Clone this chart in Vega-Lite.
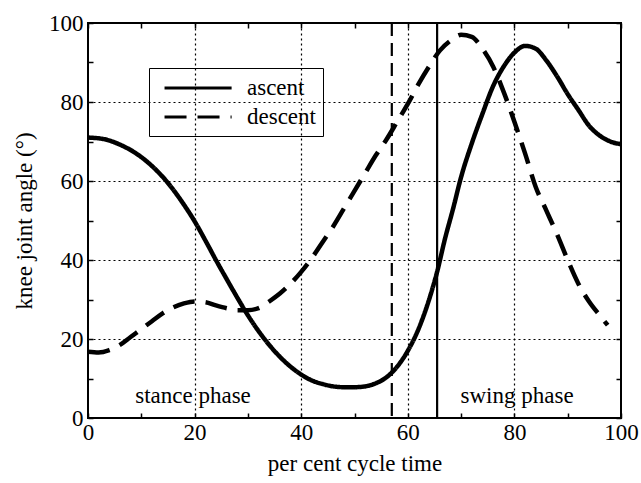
{
  "$schema": "https://vega.github.io/schema/vega-lite/v6.json",
  "width": 533,
  "height": 395,
  "autosize": {"type": "none"},
  "padding": {"left": 88, "top": 23, "right": 20, "bottom": 65},
  "background": "white",
  "config": {
    "view": {"stroke": "black", "strokeWidth": 2},
    "font": "Liberation Serif",
    "axis": {
      "labelFont": "Liberation Serif",
      "titleFont": "Liberation Serif",
      "labelFontSize": 23,
      "titleFontSize": 23,
      "titleFontWeight": "normal",
      "labelColor": "black",
      "titleColor": "black",
      "tickColor": "black",
      "domain": false,
      "labelFlush": false,
      "labelOverlap": false
    }
  },
  "datasets": {
    "curves": [
      {"series": "ascent", "time": 0, "angle": 71},
      {"series": "ascent", "time": 3, "angle": 70.6},
      {"series": "ascent", "time": 6, "angle": 69.2},
      {"series": "ascent", "time": 9, "angle": 67},
      {"series": "ascent", "time": 12, "angle": 63.8},
      {"series": "ascent", "time": 15, "angle": 59.5},
      {"series": "ascent", "time": 18, "angle": 54},
      {"series": "ascent", "time": 20, "angle": 49.8},
      {"series": "ascent", "time": 22, "angle": 45},
      {"series": "ascent", "time": 24, "angle": 40},
      {"series": "ascent", "time": 26, "angle": 35.2},
      {"series": "ascent", "time": 28, "angle": 30.5},
      {"series": "ascent", "time": 30, "angle": 26},
      {"series": "ascent", "time": 32, "angle": 22},
      {"series": "ascent", "time": 34, "angle": 18.5},
      {"series": "ascent", "time": 36, "angle": 15.5},
      {"series": "ascent", "time": 38, "angle": 13},
      {"series": "ascent", "time": 40, "angle": 11},
      {"series": "ascent", "time": 42, "angle": 9.5},
      {"series": "ascent", "time": 44, "angle": 8.6},
      {"series": "ascent", "time": 46, "angle": 8},
      {"series": "ascent", "time": 48, "angle": 7.8},
      {"series": "ascent", "time": 50, "angle": 7.8},
      {"series": "ascent", "time": 52, "angle": 8},
      {"series": "ascent", "time": 54, "angle": 8.8},
      {"series": "ascent", "time": 56, "angle": 10.3},
      {"series": "ascent", "time": 58, "angle": 13},
      {"series": "ascent", "time": 60, "angle": 17},
      {"series": "ascent", "time": 62, "angle": 22.5},
      {"series": "ascent", "time": 64, "angle": 30},
      {"series": "ascent", "time": 65.5, "angle": 37},
      {"series": "ascent", "time": 67, "angle": 45.5},
      {"series": "ascent", "time": 68.5, "angle": 53},
      {"series": "ascent", "time": 70, "angle": 61},
      {"series": "ascent", "time": 72, "angle": 69.5},
      {"series": "ascent", "time": 74, "angle": 77},
      {"series": "ascent", "time": 76, "angle": 84},
      {"series": "ascent", "time": 78, "angle": 89},
      {"series": "ascent", "time": 80, "angle": 92.5},
      {"series": "ascent", "time": 82, "angle": 94.2},
      {"series": "ascent", "time": 84, "angle": 93.5},
      {"series": "ascent", "time": 86, "angle": 90.5},
      {"series": "ascent", "time": 88, "angle": 86.5},
      {"series": "ascent", "time": 90, "angle": 82},
      {"series": "ascent", "time": 92, "angle": 78},
      {"series": "ascent", "time": 94, "angle": 74},
      {"series": "ascent", "time": 96, "angle": 71.5},
      {"series": "ascent", "time": 98, "angle": 70},
      {"series": "ascent", "time": 100, "angle": 69.3},
      {"series": "descent", "time": 0, "angle": 16.8},
      {"series": "descent", "time": 2, "angle": 16.6},
      {"series": "descent", "time": 4, "angle": 17.2},
      {"series": "descent", "time": 6, "angle": 18.5},
      {"series": "descent", "time": 8, "angle": 20.5},
      {"series": "descent", "time": 10, "angle": 22.5},
      {"series": "descent", "time": 12, "angle": 24.5},
      {"series": "descent", "time": 14, "angle": 26.5},
      {"series": "descent", "time": 16, "angle": 28},
      {"series": "descent", "time": 18, "angle": 29},
      {"series": "descent", "time": 20, "angle": 29.5},
      {"series": "descent", "time": 22, "angle": 29.3},
      {"series": "descent", "time": 24, "angle": 28.5},
      {"series": "descent", "time": 26, "angle": 27.8},
      {"series": "descent", "time": 28, "angle": 27.3},
      {"series": "descent", "time": 30, "angle": 27.3},
      {"series": "descent", "time": 32, "angle": 27.8},
      {"series": "descent", "time": 34, "angle": 29.5},
      {"series": "descent", "time": 36, "angle": 31.5},
      {"series": "descent", "time": 38, "angle": 34},
      {"series": "descent", "time": 40, "angle": 37},
      {"series": "descent", "time": 42, "angle": 40.5},
      {"series": "descent", "time": 44, "angle": 44.5},
      {"series": "descent", "time": 46, "angle": 48.5},
      {"series": "descent", "time": 48, "angle": 53},
      {"series": "descent", "time": 50, "angle": 57.5},
      {"series": "descent", "time": 52, "angle": 62},
      {"series": "descent", "time": 54, "angle": 66.5},
      {"series": "descent", "time": 56, "angle": 70.5},
      {"series": "descent", "time": 58, "angle": 75},
      {"series": "descent", "time": 60, "angle": 79.5},
      {"series": "descent", "time": 62, "angle": 84.5},
      {"series": "descent", "time": 64, "angle": 89},
      {"series": "descent", "time": 66, "angle": 93},
      {"series": "descent", "time": 68, "angle": 95.5},
      {"series": "descent", "time": 70, "angle": 97},
      {"series": "descent", "time": 72, "angle": 96.5},
      {"series": "descent", "time": 74, "angle": 93.5},
      {"series": "descent", "time": 76, "angle": 89},
      {"series": "descent", "time": 78, "angle": 82.5},
      {"series": "descent", "time": 80, "angle": 75},
      {"series": "descent", "time": 82, "angle": 67},
      {"series": "descent", "time": 84, "angle": 58.5},
      {"series": "descent", "time": 86, "angle": 52.5},
      {"series": "descent", "time": 88, "angle": 46.5},
      {"series": "descent", "time": 90, "angle": 40},
      {"series": "descent", "time": 92, "angle": 34},
      {"series": "descent", "time": 94, "angle": 29.5},
      {"series": "descent", "time": 96, "angle": 26},
      {"series": "descent", "time": 97.5, "angle": 23.5}
    ],
    "toeoff": [
      {"series": "ascent", "time": 65.5},
      {"series": "descent", "time": 57}
    ],
    "phases": [
      {"label": "stance phase", "time": 19.7, "angle": 3.8},
      {"label": "swing phase", "time": 80.5, "angle": 3.8}
    ]
  },
  "resolve": {"axis": {"x": "independent", "y": "independent"}},
  "layer": [
    {
      "data": {"name": "curves"},
      "mark": {"type": "line", "color": "black", "strokeWidth": 4.5, "interpolate": "monotone"},
      "encoding": {
        "x": {
          "field": "time", "type": "quantitative",
          "scale": {"domain": [0, 100], "nice": false},
          "axis": {
            "title": "per cent cycle time",
            "orient": "bottom",
            "values": [0, 10, 20, 30, 40, 50, 60, 70, 80, 90, 100],
            "labelExpr": "datum.value % 20 === 0 ? datum.label : ''",
            "grid": true,
            "gridColor": "black",
            "gridDash": [2, 3],
            "gridWidth": 1.2,
            "gridOpacity": {"condition": {"test": "datum.value % 20 === 0 && datum.value > 0 && datum.value < 100", "value": 1}, "value": 0},
            "tickSize": -5,
            "tickWidth": 1.5,
            "labelPadding": 8,
            "titlePadding": 8
          }
        },
        "y": {
          "field": "angle", "type": "quantitative",
          "scale": {"domain": [0, 100], "nice": false},
          "axis": {
            "title": "knee joint angle (°)",
            "orient": "left",
            "values": [0, 10, 20, 30, 40, 50, 60, 70, 80, 90, 100],
            "labelExpr": "datum.value % 20 === 0 ? datum.label : ''",
            "grid": true,
            "gridColor": "black",
            "gridDash": [2, 3],
            "gridWidth": 1.2,
            "gridOpacity": {"condition": {"test": "datum.value % 20 === 0 && datum.value > 0 && datum.value < 100", "value": 1}, "value": 0},
            "tickSize": -5,
            "tickWidth": 1.5,
            "labelPadding": 10,
            "titlePadding": 12
          }
        },
        "detail": {"field": "series", "type": "nominal"},
        "strokeDash": {
          "field": "series", "type": "nominal",
          "scale": {"domain": ["ascent", "descent"], "range": [[1, 0], [22, 11]]},
          "legend": {
            "title": null,
            "orient": "none",
            "legendX": 61,
            "legendY": 45,
            "strokeColor": "black",
            "padding": 7,
            "symbolType": "M-0.4,0H5.6",
            "symbolSize": 500,
            "symbolStrokeWidth": 3,
            "symbolStrokeColor": "black",
            "labelFont": "Liberation Serif",
            "labelFontSize": 23,
            "labelColor": "black",
            "labelOffset": 65,
            "rowPadding": 4
          }
        }
      }
    },
    {
      "data": {"name": "toeoff"},
      "transform": [{"filter": "datum.series === 'ascent'"}],
      "mark": {"type": "rule", "color": "black", "strokeWidth": 2.2},
      "encoding": {
        "x": {
          "field": "time", "type": "quantitative",
          "axis": {
            "orient": "top", "title": null, "labels": false, "grid": false,
            "values": [0, 10, 20, 30, 40, 50, 60, 70, 80, 90, 100],
            "tickSize": -5, "tickWidth": 1.5
          }
        }
      }
    },
    {
      "data": {"name": "toeoff"},
      "transform": [{"filter": "datum.series === 'descent'"}],
      "mark": {"type": "rule", "color": "black", "strokeWidth": 2.2, "strokeDash": [13, 7]},
      "encoding": {
        "x": {"field": "time", "type": "quantitative", "axis": null}
      }
    },
    {
      "data": {"name": "phases"},
      "mark": {"type": "text", "font": "Liberation Serif", "fontSize": 23, "color": "black", "align": "center", "baseline": "alphabetic"},
      "encoding": {
        "x": {"field": "time", "type": "quantitative", "axis": null},
        "y": {
          "field": "angle", "type": "quantitative",
          "axis": {
            "orient": "right", "title": null, "labels": false, "grid": false,
            "values": [0, 10, 20, 30, 40, 50, 60, 70, 80, 90, 100],
            "tickSize": -5, "tickWidth": 1.5
          }
        },
        "text": {"field": "label", "type": "nominal"}
      }
    }
  ]
}
